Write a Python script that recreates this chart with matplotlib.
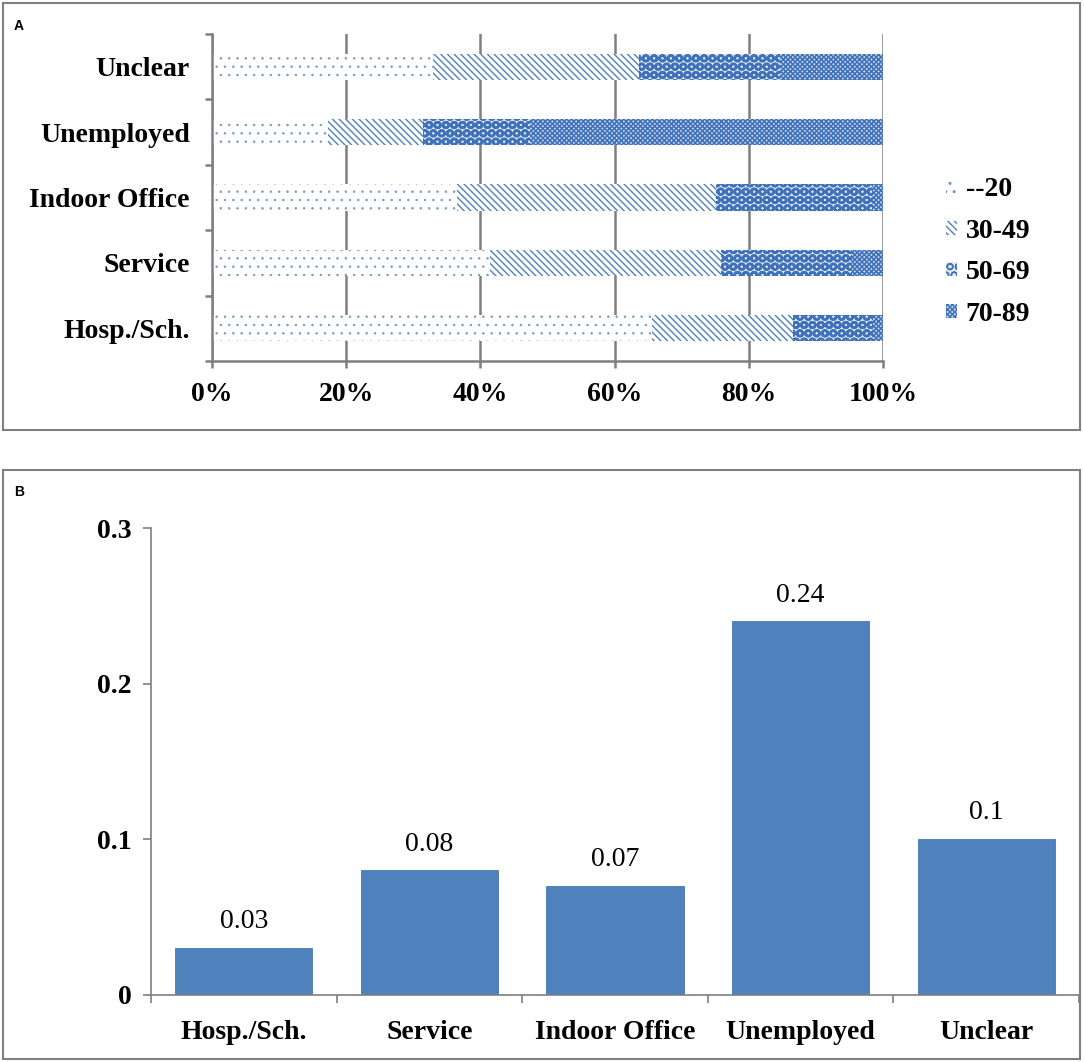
import matplotlib
matplotlib.use("Agg")
import matplotlib.pyplot as plt
import numpy as np
from matplotlib.patches import Rectangle

plt.rcParams["font.family"] = ["Liberation Serif", "DejaVu Serif"]

BLUE = "#4F81BD"
GRID = "#7f7f7f"

# panel A: share of each age band per occupation (percent)
occupations = ["Hosp./Sch.", "Service", "Indoor Office", "Unemployed", "Unclear"]
age_bands = ["--20", "30-49", "50-69", "70-89"]
share_20 = [65.6, 41.5, 36.5, 17.3, 33.0]
share_30_49 = [21.0, 34.3, 38.6, 14.1, 30.7]
share_50_69 = [11.9, 19.6, 23.4, 16.0, 21.0]
share_70_89 = [1.5, 4.6, 1.5, 52.6, 15.3]

# fill style per band: (facecolor, hatch colour, hatch, hatch linewidth)
styles = [
    ("white", "#6f95cc", "..", 0.5),
    ("white", BLUE, "\\\\\\\\\\", 1.0),
    ("#dfe7f3", "#3f72b8", "OO", 1.8),
    ("#c7d5ec", "#3f72b8", "xxxxxxx", 1.1),
]

# panel B: rate per occupation
rates = [0.03, 0.08, 0.07, 0.24, 0.1]
rate_labels = ["0.03", "0.08", "0.07", "0.24", "0.1"]

fig = plt.figure(figsize=(10.84, 10.62), dpi=100)

# panel frames
for (x0, y0, x1, y1) in [(3, 3, 1080, 430), (3, 470, 1080, 1059)]:
    fig.patches.append(Rectangle((x0 / 1084, 1 - y1 / 1062), (x1 - x0) / 1084,
                                 (y1 - y0) / 1062, transform=fig.transFigure,
                                 fill=False, edgecolor=GRID, linewidth=1.5))
fig.text(14 / 1084, 1 - 26 / 1062, "A", family="Liberation Sans",
         fontweight="bold", fontsize=10, va="center")
fig.text(14 / 1084, 1 - 492 / 1062, "B", family="Liberation Sans",
         fontweight="bold", fontsize=10, va="center")

# ---- panel A ----
axA = fig.add_axes([212 / 1084, 1 - 361 / 1062, 671 / 1084, 327 / 1062])
y = np.arange(len(occupations))
left = np.zeros(len(occupations))
for vals, lab, (fc, hc, h, hlw) in zip(
        [share_20, share_30_49, share_50_69, share_70_89], age_bands, styles):
    with plt.rc_context({"hatch.linewidth": hlw}):
        axA.barh(y, vals, 0.4, left=left, facecolor=fc, edgecolor=hc,
                 linewidth=0, hatch=h, label=lab, zorder=2)
    left += np.array(vals)
axA.set_xlim(0, 100)
axA.set_ylim(-0.5, len(occupations) - 0.5)
axA.set_xticks(np.arange(0, 101, 20), [f"{v}%" for v in range(0, 101, 20)])
axA.set_yticks(y, occupations)
axA.set_yticks(np.arange(-0.5, len(occupations)), minor=True)
axA.grid(axis="x", color=GRID, linewidth=1.8, zorder=0)
axA.set_axisbelow(True)
axA.spines[["top", "right"]].set_visible(False)
axA.spines[["left", "bottom"]].set_color(GRID)
axA.spines[["left", "bottom"]].set_linewidth(1.8)
axA.tick_params(axis="y", which="major", length=0, pad=16)
axA.tick_params(axis="y", which="minor", length=5, width=1.8, color=GRID)
axA.tick_params(axis="x", length=5, width=1.8, color=GRID, pad=10)
for lab in axA.get_xticklabels() + axA.get_yticklabels():
    lab.set_fontsize(20)
    lab.set_fontweight("bold")
axA.legend(loc="center left", bbox_to_anchor=(935 / 1084, 1 - 252 / 1062),
           bbox_transform=fig.transFigure, frameon=False,
           prop={"size": 20, "weight": "bold"}, handlelength=0.4,
           handleheight=0.4, handletextpad=0.3, labelspacing=0.6,
           borderaxespad=0)

# ---- panel B ----
axB = fig.add_axes([151 / 1084, 1 - 995 / 1062, 928 / 1084, 467 / 1062])
x = np.arange(len(occupations))
bars = axB.bar(x, rates, 0.74, color=BLUE, edgecolor="#4a78b0", linewidth=0.6)
for b, t in zip(bars, rate_labels):
    axB.annotate(t, (b.get_x() + b.get_width() / 2, b.get_height()),
                 xytext=(0, 10), textcoords="offset points", ha="center",
                 va="bottom", fontsize=20)
axB.set_xlim(-0.5, len(occupations) - 0.5)
axB.set_ylim(0, 0.3)
axB.set_yticks([0, 0.1, 0.2, 0.3], ["0", "0.1", "0.2", "0.3"])
axB.set_xticks(x, occupations)
axB.set_xticks(np.arange(-0.5, len(occupations)), minor=True)
axB.spines[["top", "right"]].set_visible(False)
axB.spines[["left", "bottom"]].set_color(GRID)
axB.spines[["left", "bottom"]].set_linewidth(1.2)
axB.tick_params(axis="x", which="major", length=0, pad=18)
axB.tick_params(axis="x", which="minor", length=6, width=1.2, color=GRID)
axB.tick_params(axis="y", length=6, width=1.2, color=GRID, pad=8)
for lab in axB.get_xticklabels() + axB.get_yticklabels():
    lab.set_fontsize(20)
    lab.set_fontweight("bold")

fig.savefig("out.png", dpi=100)
